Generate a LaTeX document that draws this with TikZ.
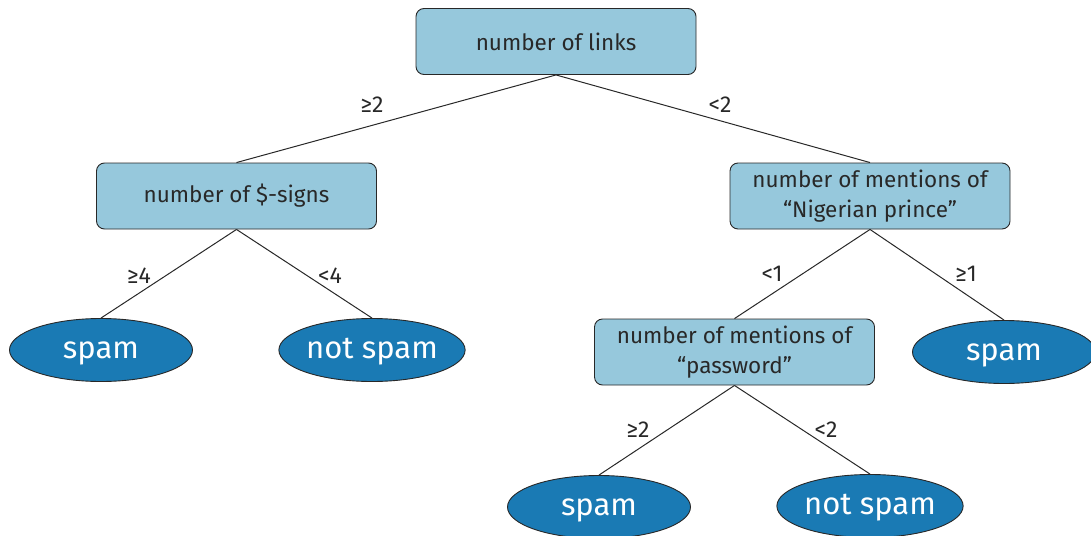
\documentclass[tikz,border=0pt]{standalone}
\usepackage{fontspec}
\setmainfont{Fira Sans}
\usetikzlibrary{shapes.geometric}
\definecolor{boxfill}{RGB}{150,200,220}
\definecolor{leaffill}{RGB}{26,122,180}
\definecolor{ink}{RGB}{40,40,40}
\tikzset{
  test/.style={draw=ink, fill=boxfill, rounded corners=8pt, line width=0.9pt,
    minimum width=280pt, minimum height=66pt, align=center, text=ink,
    font=\fontsize{22.5}{30}\selectfont, inner sep=2pt},
  leaf/.style={ellipse, draw=ink, fill=leaffill, line width=0.9pt,
    minimum width=183pt, minimum height=63pt, text=white, inner sep=0pt,
    text height=16pt, text depth=0pt,
    font=\fontsize{31}{34}\selectfont},
  branch/.style={draw=ink, line width=1pt},
  cond/.style={text=ink, font=\fontsize{23}{25}\selectfont, inner sep=0pt}
}
\begin{document}
\begin{tikzpicture}[x=1pt,y=-1pt]
  \useasboundingbox (0,0) rectangle (1091,535);
  \clip (0,0) rectangle (1091,535);
  % internal tests
  \node[test] (links)    at (556,41.5) {number of links};
  \node[test] (dollars)  at (236.5,196) {number of \$-signs};
  \node[test] (prince)   at (870,196) {number of mentions of\\“Nigerian prince”};
  \node[test] (password) at (734.5,352) {number of mentions of\\“password”};
  % leaves
  \node[leaf] (s1)  at (101,350) {spam};
  \node[leaf] (ns1) at (372,350) {not spam};
  \node[leaf] (s2)  at (1004,352) {spam};
  \node[leaf] (s3)  at (599,507) {spam};
  \node[leaf] (ns2) at (870,506) {not spam};
  % branches
  \draw[branch] (links.south) -- (dollars.north);
  \draw[branch] (links.south) -- (prince.north);
  \draw[branch] (dollars.south) -- (s1.north);
  \draw[branch] (dollars.south) -- (ns1.north);
  \draw[branch] (prince.south) -- (password.north);
  \draw[branch] (prince.south) -- (s2.north);
  \draw[branch] (password.south) -- (s3.north);
  \draw[branch] (password.south) -- (ns2.north);
  % branch conditions
  \node[cond] (c1) at (372,105) {≥2};
  \node[cond] (c2) at (720,105) {<2};
  \node[cond] (c3) at (139,276) {≥4};
  \node[cond] (c4) at (330,276) {<4};
  \node[cond] (c5) at (772,274) {<1};
  \node[cond] (c6) at (966,274) {≥1};
  \node[cond] (c7) at (638,430) {≥2};
  \node[cond] (c8) at (826,430) {<2};
\end{tikzpicture}
\end{document}
